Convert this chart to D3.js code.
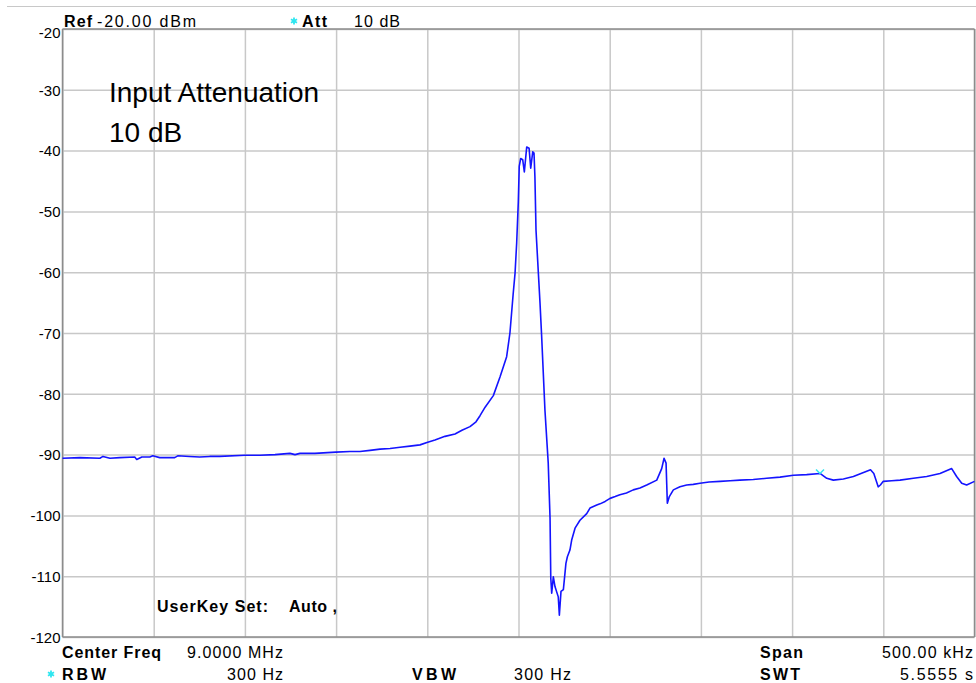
<!DOCTYPE html>
<html>
<head>
<meta charset="utf-8">
<script src="https://cdn.jsdelivr.net/npm/d3@7/dist/d3.min.js"></script>
<style>
  html, body { margin: 0; padding: 0; background: #ffffff; }
  svg { display: block; font-family: "Liberation Sans", Arial, sans-serif; }
</style>
</head>
<body>
<svg id="chart" width="976" height="683"></svg>
<script>
// ---- data ----
// frequency offset from centre (kHz), level (dBm)
const freqOffsetKHz = [
  -250, -240.4, -229.5, -227.8, -224, -218.6, -210.4, -209.3, -206.5, -202.1,
  -200.5, -196.7, -188.5, -186.8, -180.3, -174.8, -169.3, -163.8, -150, -141.7,
  -133.5, -125.3, -122.5, -119.8, -111.6, -100.1, -92.4, -86.9, -81.4, -75.9,
  -70.4, -64.9, -59.5, -54.0, -50.2, -45.8, -40.3, -34.8, -31.0, -26.6,
  -23.3, -21.1, -18.3, -13.8, -10.1, -6.5, -4.7, -2.9, -1.9, -1.0,
  -0.1, 0.4, 1.2, 2.3, 3.2, 4.5, 5.8, 6.7, 7.8, 8.5,
  9.0, 9.6, 10.9, 11.8, 12.7, 14.5, 16.3, 17.3, 17.7, 18.2,
  19.1, 20.0, 21.8, 22.4, 23.3, 24.6, 26.0, 26.8, 28.2, 29.2,
  31.0, 33.7, 37.4, 39.2, 42.9, 44.7, 47.5, 50.2, 53.0, 55.6,
  59.2, 62.9, 66.6, 70.3, 75.8, 78.5, 79.8, 80.9, 81.6, 82.7,
  84.9, 88.5, 92.2, 95.8, 99.5, 104.5, 110.5, 116.0, 121.4, 128.7,
  136.1, 143.4, 150.7, 158.0, 165.3, 169.0, 172.6, 178.1, 183.6, 193.0,
  194.8, 197.2, 198.4, 200.0, 204.6, 209.2, 216.5, 223.8, 231.1, 237.5,
  240.2, 243.0, 245.7, 250
];
const levelDbm = [
  -90.6, -90.5, -90.6, -90.3, -90.6, -90.5, -90.4, -90.8, -90.4, -90.4,
  -90.2, -90.5, -90.5, -90.2, -90.3, -90.4, -90.3, -90.3, -90.1, -90.1,
  -90.0, -89.8, -90.0, -89.8, -89.8, -89.6, -89.5, -89.5, -89.3, -89.1,
  -89.0, -88.8, -88.6, -88.4, -88.0, -87.6, -87.0, -86.6, -86.0, -85.4,
  -84.6, -83.6, -82.2, -80.3, -77.2, -73.9, -70.0, -63.5, -60.2, -55.2,
  -48.4, -42.6, -41.3, -41.5, -43.5, -39.4, -39.6, -42.9, -40.2, -40.4,
  -44.3, -53.1, -60.2, -65.1, -70.6, -82.7, -91.4, -100.5, -110.3, -112.8,
  -110.1, -111.7, -113.4, -116.4, -112.5, -112.2, -107.9, -106.8, -105.7, -104.0,
  -102.1, -100.8, -99.7, -98.8, -98.3, -98.1, -97.7, -97.2, -96.9, -96.6,
  -96.3, -95.8, -95.5, -95.0, -94.2, -92.3, -90.6, -91.4, -98.0, -96.9,
  -95.8, -95.3, -95.0, -94.9, -94.7, -94.5, -94.4, -94.3, -94.2, -94.1,
  -93.9, -93.7, -93.4, -93.3, -93.1, -93.9, -94.2, -94.0, -93.6, -92.5,
  -93.1, -95.3, -95.0, -94.4, -94.3, -94.2, -93.9, -93.6, -93.1, -92.3,
  -93.6, -94.7, -95.0, -94.4
];
const markerKHz = [165.3];
const markerDbm = [-93.1];
const yTicks = [-20, -30, -40, -50, -60, -70, -80, -90, -100, -110, -120];
const xGridKHz = [-250, -200, -150, -100, -50, 0, 50, 100, 150, 200, 250];

// ---- layout ----
const svg = d3.select("#chart");
const L = 62.5, R = 974.5, T = 29, B = 637;
const x = d3.scaleLinear().domain([-250, 250]).range([L, R]);
const y = d3.scaleLinear().domain([-20, -120]).range([T, B]);
const gridCol = "#c8c8c8";

// top separator line
svg.append("line").attr("x1", 7).attr("x2", 976).attr("y1", 6.5).attr("y2", 6.5)
  .attr("stroke", "#c8c8c8").attr("stroke-width", 1.2);

// vertical grid
svg.append("g").attr("transform", `translate(0,${B})`)
  .call(d3.axisBottom(x).tickValues(xGridKHz).tickSize(-(B - T)).tickFormat(""))
  .call(g => g.select(".domain").remove())
  .call(g => g.selectAll(".tick line").attr("stroke", gridCol).attr("stroke-width", 1.5));

// horizontal grid + labels
svg.append("g").attr("transform", `translate(${L},0)`)
  .call(d3.axisLeft(y).tickValues(yTicks).tickSize(-(R - L)).tickPadding(2).tickFormat(d => String(d)))
  .call(g => g.select(".domain").remove())
  .call(g => g.selectAll(".tick line").attr("stroke", gridCol).attr("stroke-width", 1.5))
  .call(g => g.selectAll(".tick text")
      .attr("fill", "#000").attr("font-size", 15)
      .attr("font-family", "Liberation Sans, Arial, sans-serif")
      .attr("dy", d => d === -20 ? "0.55em" : "0.35em"));

// plot frame
const frame = svg.append("g").attr("stroke", "#8c8c8c").attr("stroke-width", 1.5).attr("fill", "none");
frame.append("line").attr("x1", L).attr("x2", L).attr("y1", T).attr("y2", B);
frame.append("line").attr("x1", L).attr("x2", R).attr("y1", T).attr("y2", T);
frame.append("line").attr("x1", R).attr("x2", R).attr("y1", T).attr("y2", B);
frame.append("line").attr("x1", L).attr("x2", R).attr("y1", B).attr("y2", B);

// trace
const pts = freqOffsetKHz.map((f, i) => [f, levelDbm[i]]);
svg.append("path").datum(pts)
  .attr("fill", "none").attr("stroke", "#1414ff").attr("stroke-width", 1.6)
  .attr("stroke-linejoin", "round")
  .attr("d", d3.line().x(d => x(d[0])).y(d => y(d[1])));

// marker
markerKHz.forEach((m, i) => {
  const mx = x(m), my = y(markerDbm[i]);
  svg.append("path")
    .attr("d", `M${mx - 4},${my - 4} L${mx},${my} L${mx + 4},${my - 4}`)
    .attr("stroke", "#33e6f0").attr("stroke-width", 1.5).attr("fill", "none");
});

// ---- annotation texts ----
function txt(s, xx, yy, opts = {}) {
  const t = svg.append("text").attr("x", xx).attr("y", yy).text(s)
    .attr("font-size", opts.size || 16)
    .attr("font-weight", opts.bold ? "bold" : "normal")
    .attr("fill", opts.color || "#000")
    .attr("text-anchor", opts.anchor || "start");
  if (opts.w) t.attr("textLength", opts.w).attr("lengthAdjust", "spacing");
  return t;
}
// cyan asterisk symbol
function star(cx, cy) {
  svg.append("path")
    .attr("transform", `translate(${cx},${cy})`)
    .attr("d", d3.symbol().type(d3.symbolAsterisk).size(34)())
    .attr("fill", "none").attr("stroke", "#2ee6f0").attr("stroke-width", 1.8);
}

txt("Ref", 64, 27, { bold: true, w: 28 });
txt("-20.00 dBm", 97, 27, { w: 99 });
star(294, 21);
txt("Att", 302, 27, { bold: true, w: 25 });
txt("10 dB", 354, 27, { w: 46 });

txt("Input Attenuation", 109, 101.5, { size: 28 });
txt("10 dB", 109, 141.5, { size: 28 });

txt("UserKey Set:", 157, 612, { bold: true, w: 111 });
txt("Auto ,", 289, 612, { bold: true, w: 48 });

txt("Center Freq", 62, 658, { bold: true, w: 99 });
txt("9.0000 MHz", 187, 658, { w: 96 });
txt("Span", 760, 658, { bold: true, w: 43 });
txt("500.00 kHz", 882, 658, { w: 91 });

star(51, 674);
txt("RBW", 62, 680, { bold: true, w: 44 });
txt("300 Hz", 227, 680, { w: 56 });
txt("VBW", 412, 680, { bold: true, w: 44 });
txt("300 Hz", 514, 680, { w: 57 });
txt("SWT", 760, 680, { bold: true, w: 40 });
txt("5.5555 s", 900, 680, { w: 73 });
</script>
</body>
</html>
